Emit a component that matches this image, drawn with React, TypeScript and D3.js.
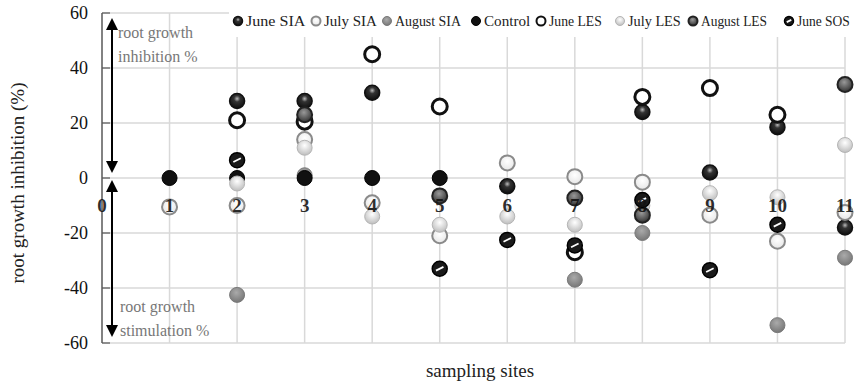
import React from 'react';
import * as d3 from 'd3';

// sampling sites 1..11, values in % (null = no point)
const sites = [1, 2, 3, 4, 5, 6, 7, 8, 9, 10, 11];
const xTicks = [0, 1, 2, 3, 4, 5, 6, 7, 8, 9, 10, 11];
const yTicks = [-60, -40, -20, 0, 20, 40, 60];

const juneSIA = [null, 28, 28, 31, null, -3, null, 24, 2, 18.5, -18];
const julySIA = [-10.5, -10, 14, -9, -21, 5.5, 0.5, -1.5, -13.5, -23, -12.5];
const augustSIA = [null, -42.5, 1, null, null, null, -37, -20, null, -53.5, -29];
const control = [0, 0, 0, 0, 0, null, null, null, null, null, null];
const juneLES = [null, 21, 20.5, 45, 26, null, -27, 29.5, 32.7, 23, null];
const julyLES = [null, -2, 11, -14, -17, -14, -17, -10, -5.5, -7, 12];
const augustLES = [null, null, 23, null, -6.5, null, -7.3, -13.5, null, null, 34];
const juneSOS = [null, 6.5, null, null, -33, -22.5, -24.5, -8, -33.5, -17, null];

type Style = { fill: string; stroke: string; sw: number; stripe?: boolean };

const series: { name: string; values: (number | null)[]; style: Style }[] = [
  { name: 'June  SIA', values: juneSIA, style: { fill: 'url(#gDark)', stroke: '#111', sw: 1.5 } },
  { name: 'July SIA', values: julySIA, style: { fill: 'url(#gWhite)', stroke: '#8a8a8a', sw: 2 } },
  { name: 'August SIA', values: augustSIA, style: { fill: 'url(#gMid)', stroke: '#7a7a7a', sw: 1 } },
  { name: 'Control', values: control, style: { fill: '#111', stroke: '#000', sw: 1 } },
  { name: 'June LES', values: juneLES, style: { fill: '#fff', stroke: '#111', sw: 3 } },
  { name: 'July LES', values: julyLES, style: { fill: 'url(#gLight)', stroke: '#b5b5b5', sw: 1 } },
  { name: 'August LES', values: augustLES, style: { fill: 'url(#gDark2)', stroke: '#222', sw: 2 } },
  { name: 'June SOS', values: juneSOS, style: { fill: '#1a1a1a', stroke: '#000', sw: 1.5, stripe: true } },
];

const legendX = [238, 316, 387, 476, 541, 620, 693, 789];

const font = '"Liberation Serif", "DejaVu Serif", serif';

function Marker({ cx, cy, r, s }: { cx: number; cy: number; r: number; s: Style }) {
  return (
    <g>
      <circle cx={cx} cy={cy} r={r} fill={s.fill} stroke={s.stroke} strokeWidth={s.sw} />
      {s.stripe && (
        <line x1={cx - r * 0.5} y1={cy + r * 0.25} x2={cx + r * 0.5} y2={cy - r * 0.25} stroke="#fff" strokeWidth={1.8} />
      )}
    </g>
  );
}

export default function App() {
  const x = d3.scaleLinear().domain([0, 11]).range([102, 845]);
  const y = d3.scaleLinear().domain([-60, 60]).range([343, 13]);
  const y0 = y(0);

  const arrow = (x0: number, ya: number, yb: number) => (
    <g>
      <line x1={x0} x2={x0} y1={ya + 8} y2={yb - 8} stroke="#000" strokeWidth={2} />
      <path d={`M${x0},${ya} L${x0 - 6},${ya + 12} L${x0 + 6},${ya + 12} Z`} fill="#000" />
      <path d={`M${x0},${yb} L${x0 - 6},${yb - 12} L${x0 + 6},${yb - 12} Z`} fill="#000" />
    </g>
  );

  return (
    <svg width={859} height={381} style={{ position: 'absolute', left: 0, top: 0 }} fontFamily={font}>
      <defs>
        <radialGradient id="gDark" cx="50%" cy="35%" r="60%">
          <stop offset="0%" stopColor="#bbb" />
          <stop offset="35%" stopColor="#333" />
          <stop offset="100%" stopColor="#111" />
        </radialGradient>
        <radialGradient id="gDark2" cx="45%" cy="35%" r="60%">
          <stop offset="0%" stopColor="#999" />
          <stop offset="100%" stopColor="#3a3a3a" />
        </radialGradient>
        <radialGradient id="gMid" cx="45%" cy="35%" r="65%">
          <stop offset="0%" stopColor="#aaa" />
          <stop offset="100%" stopColor="#777" />
        </radialGradient>
        <radialGradient id="gLight" cx="50%" cy="35%" r="65%">
          <stop offset="0%" stopColor="#fff" />
          <stop offset="100%" stopColor="#bdbdbd" />
        </radialGradient>
        <radialGradient id="gWhite" cx="50%" cy="40%" r="60%">
          <stop offset="0%" stopColor="#fff" />
          <stop offset="100%" stopColor="#e6e6e6" />
        </radialGradient>
      </defs>
      <rect width={859} height={381} fill="#fff" />

      {/* grid */}
      {yTicks.map((t) => (
        <line key={'h' + t} x1={x(0)} x2={x(11)} y1={y(t)} y2={y(t)} stroke="#d9d9d9" strokeWidth={1.5} />
      ))}
      {xTicks.slice(1).map((t) => (
        <line key={'v' + t} x1={x(t)} x2={x(t)} y1={y(60)} y2={y(-60)} stroke="#d9d9d9" strokeWidth={1.5} />
      ))}
      {/* left axis */}
      <line x1={x(0)} x2={x(0)} y1={y(60)} y2={y(-60)} stroke="#595959" strokeWidth={1.5} />
      {yTicks.map((t) => (
        <line key={'yt' + t} x1={x(0)} x2={x(0) + 8} y1={y(t)} y2={y(t)} stroke="#595959" strokeWidth={1.2} />
      ))}
      {yTicks.map((t) => (
        <text key={'yl' + t} x={x(0) - 14} y={y(t)} dy="0.35em" textAnchor="end" fontSize={18} fill="#111">
          {t}
        </text>
      ))}

      {/* arrows and notes */}
      {arrow(112, 18, 173)}
      {arrow(112, 180, 337)}
      <text x={118} y={38} fontSize={16} fill="#777">root growth</text>
      <text x={118} y={62} fontSize={16} fill="#777">inhibition %</text>
      <text x={120} y={312} fontSize={16} fill="#777">root growth</text>
      <text x={120} y={336} fontSize={16} fill="#777">stimulation %</text>

      {/* points */}
      {series.map((s) =>
        s.values.map((v, i) =>
          v === null ? null : (
            <Marker key={s.name + i} cx={x(sites[i])} cy={y(v)} r={7.5} s={s.style} />
          )
        )
      )}

      {/* x tick labels near zero line, drawn over the points */}
      {xTicks.map((t) => (
        <text key={'xl' + t} x={x(t)} y={y0 + 34} textAnchor="middle" fontSize={19} fontWeight="bold" fill="#111" fillOpacity={0.9}>
          {t}
        </text>
      ))}

      {/* legend */}
      <rect x={229} y={0} width={630} height={37} fill="#fff" />
      {series.map((s, i) => (
        <g key={'lg' + i}>
          <Marker cx={legendX[i]} cy={21} r={4.5} s={{ ...s.style, sw: Math.min(s.style.sw, 2) }} />
          <text x={legendX[i] + 8} y={26} fontSize={14} fill="#222" textLength={s.name.length * 6.6} lengthAdjust="spacingAndGlyphs">
            {s.name}
          </text>
        </g>
      ))}

      {/* titles */}
      <text transform="translate(24,183) rotate(-90)" textAnchor="middle" fontSize={19} fill="#222">
        root growth inhibition (%)
      </text>
      <text x={480} y={377} textAnchor="middle" fontSize={19} fill="#222">
        sampling sites
      </text>
    </svg>
  );
}
